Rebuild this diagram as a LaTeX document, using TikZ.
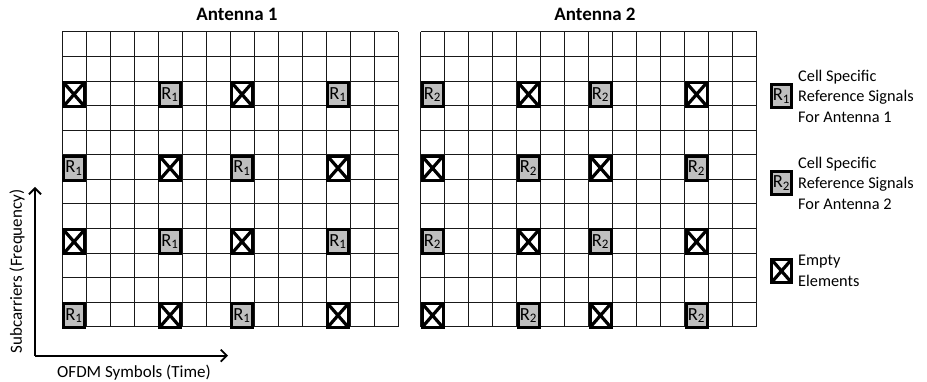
\documentclass[tikz,border=0pt]{standalone}
\usepackage{fontspec}
\setmainfont{Carlito}
\usetikzlibrary{arrows.meta}
\begin{document}
\begin{tikzpicture}[x=1pt,y=-1pt,
  gridline/.style={draw=black!90,line width=1pt},
  mbox/.style={draw=black,line width=3pt,minimum width=21pt,minimum height=24pt,inner sep=0pt},
  rsig/.style={mbox,fill=black!25,font=\fontsize{18.5}{18.5}\selectfont},
  empt/.style={mbox,fill=white,path picture={\draw[line width=3.2pt]
      (path picture bounding box.north west) -- (path picture bounding box.south east)
      (path picture bounding box.north east) -- (path picture bounding box.south west);}},
  legsz/.style={minimum width=20pt,minimum height=23pt},
  axis/.style={line width=1.8pt,-{Straight Barb[length=6pt,width=12pt,line width=1.8pt]}},
  title/.style={font=\bfseries\fontsize{19}{19}\selectfont},
  axlabel/.style={font=\fontsize{17}{17}\selectfont},
  legtext/.style={anchor=west,align=left,inner sep=0pt,font=\fontsize{16.3}{20.5}\selectfont}]
\useasboundingbox (0,0) rectangle (927,382);
% grids
\foreach \gx in {62,420.5}{
  \foreach \i in {0,...,14}
    \draw[gridline] (\gx+24*\i,32) -- (\gx+24*\i,326.7);
  \foreach \j in {0,...,12}
    \draw[gridline] (\gx,32+24.56*\j) -- (\gx+336,32+24.56*\j);
}
% titles
\node[title] (t1) at (237,14.5) {Antenna 1};
\node[title] (t2) at (595,14.5) {Antenna 2};
% markers
\foreach \k in {0,...,3}{
  \foreach \c [count=\m from 0] in {0,4,7,11}{
    \pgfmathtruncatemacro{\s}{\k+\m}
    \pgfmathsetmacro{\yy}{32+24.56*(2+3*\k)+12.28+1}
    \ifodd\s
      \node[rsig] (a-\k-\c) at (62+24*\c+12,\yy) {R\textsubscript{1}};
      \node[empt] (b-\k-\c) at (420.5+24*\c+12,\yy) {};
    \else
      \node[empt] (a-\k-\c) at (62+24*\c+12,\yy) {};
      \node[rsig] (b-\k-\c) at (420.5+24*\c+12,\yy) {R\textsubscript{2}};
    \fi
  }
}
% axes
\coordinate (o) at (35,355.7);
\coordinate (xe) at (228,355.7);
\coordinate (ye) at (35,187);
\draw[axis] (o) -- (xe);
\draw[axis] (o) -- (ye);
\node[axlabel] (xl) at (134,373) {OFDM Symbols (Time)};
\node[axlabel,rotate=90] (yl) at (17,271.5) {Subcarriers (Frequency)};
% legend
\node[rsig,legsz] (l1) at (781.5,96) {R\textsubscript{1}};
\node[legtext] (l1t) at (798,96) {Cell Specific\\Reference Signals\\For Antenna 1};
\node[rsig,legsz] (l2) at (781.5,183) {R\textsubscript{2}};
\node[legtext] (l2t) at (798,183) {Cell Specific\\Reference Signals\\For Antenna 2};
\node[empt,legsz] (l3) at (781.5,271) {};
\node[legtext] (l3t) at (798,271) {Empty\\Elements};
\end{tikzpicture}
\end{document}
